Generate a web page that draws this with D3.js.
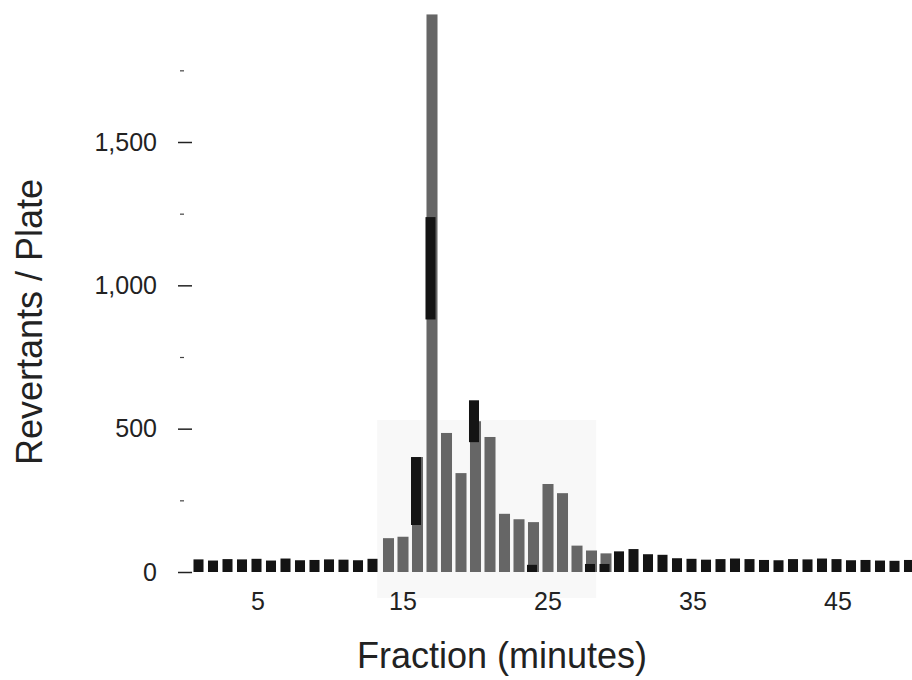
<!DOCTYPE html>
<html>

<head>
    <style>
        body { margin: 0; background: #fff; }
        svg { display: block; font-family: "Liberation Sans", Arial, sans-serif; }
    </style>
</head>

<body>
    <svg width="912" height="680"></svg>
    <script src="https://d3js.org/d3.v7.min.js"></script>
    <script>
        // fractions 1..50
        var fractions = d3.range(1, 51);

        // gray bars (revertants/plate), 0 where no gray bar shows
        var grayVals = [0, 0, 0, 0, 0, 0, 0, 0, 0, 0, 0, 0, 0,
            118, 123, 401, 1945, 485, 345, 526, 471, 203, 184, 174, 307, 275, 92, 75, 65,
            0, 0, 0, 0, 0, 0, 0, 0, 0, 0, 0, 0, 0, 0, 0, 0, 0, 0, 0, 0, 0];

        // black bars, drawn on top as low/high ranges
        var blackLo = [0, 0, 0, 0, 0, 0, 0, 0, 0, 0, 0, 0, 0,
            0, 0, 164, 881, 0, 0, 453, 0, 0, 0, 0, 0, 0, 0, 0, 0,
            0, 0, 0, 0, 0, 0, 0, 0, 0, 0, 0, 0, 0, 0, 0, 0, 0, 0, 0, 0, 0];
        var blackHi = [44, 40, 45, 44, 46, 40, 47, 41, 42, 44, 43, 41, 46,
            0, 0, 401, 1238, 0, 0, 599, 0, 0, 0, 25, 0, 0, 0, 28, 28,
            72, 80, 62, 60, 48, 46, 43, 45, 47, 45, 42, 41, 45, 44, 47, 45, 41, 42, 40, 39, 42];

        var yMajor = [0, 500, 1000, 1500];
        var yMinor = [250, 750, 1250, 1750];
        var xLabels = [5, 15, 25, 35, 45];

        // faint scanned background patch behind the peak
        var shadeFrom = 14, shadeTo = 28, shadeTop = 530;

        var svg = d3.select("svg");

        var x = d3.scaleBand()
            .domain(fractions)
            .range([192.75, 917.75])
            .paddingInner(0.24)
            .paddingOuter(0.12);

        var y = d3.scaleLinear()
            .domain([0, 1500])
            .range([572, 142]);

        var data = fractions.map(function (f, i) {
            return { f: f, gray: grayVals[i], lo: blackLo[i], hi: blackHi[i] };
        });

        var step = x.step();
        svg.append("rect")
            .attr("x", x(shadeFrom) - step * 0.4)
            .attr("y", y(shadeTop))
            .attr("width", x(shadeTo) - x(shadeFrom) + step * 1.1)
            .attr("height", y(0) - y(shadeTop) + 26)
            .attr("fill", "#f8f8f8");

        var g = svg.append("g");

        g.selectAll(".gray")
            .data(data.filter(function (d) { return d.gray > 0; }))
            .enter().append("rect")
            .attr("class", "gray")
            .attr("x", function (d) { return x(d.f); })
            .attr("y", function (d) { return y(d.gray); })
            .attr("width", x.bandwidth())
            .attr("height", function (d) { return y(0) - y(d.gray); })
            .attr("fill", "#666");

        g.selectAll(".black")
            .data(data.filter(function (d) { return d.hi > d.lo; }))
            .enter().append("rect")
            .attr("class", "black")
            .attr("x", function (d) { return x(d.f) - 1; })
            .attr("y", function (d) { return y(d.hi); })
            .attr("width", x.bandwidth() - 1)
            .attr("height", function (d) { return y(d.lo) - y(d.hi); })
            .attr("fill", "#141414");

        // y axis: major ticks with labels, no spine
        var yAxis = svg.append("g")
            .attr("transform", "translate(192,0)")
            .call(d3.axisLeft(y)
                .tickValues(yMajor)
                .tickSize(14)
                .tickPadding(21)
                .tickFormat(d3.format(",")));
        yAxis.select(".domain").remove();
        yAxis.selectAll("line").attr("stroke", "#222").attr("stroke-width", 1.5);
        yAxis.selectAll("text").attr("font-size", 25).attr("fill", "#222")
            .attr("font-family", "Liberation Sans, Arial, sans-serif");

        var yAxisMinor = svg.append("g")
            .attr("transform", "translate(184,0)")
            .call(d3.axisLeft(y).tickValues(yMinor).tickSize(4).tickFormat(""));
        yAxisMinor.select(".domain").remove();
        yAxisMinor.selectAll("line").attr("stroke", "#444").attr("stroke-width", 1.2);

        // x axis: labels only
        var xAxis = svg.append("g")
            .attr("transform", "translate(0,572)")
            .call(d3.axisBottom(x).tickValues(xLabels).tickSize(0).tickPadding(20));
        xAxis.select(".domain").remove();
        xAxis.selectAll("text").attr("font-size", 25).attr("fill", "#222")
            .attr("font-family", "Liberation Sans, Arial, sans-serif");

        svg.append("text")
            .attr("x", 502)
            .attr("y", 668)
            .attr("text-anchor", "middle")
            .attr("font-size", 36)
            .attr("fill", "#222")
            .text("Fraction (minutes)");

        svg.append("text")
            .attr("transform", "translate(42,322) rotate(-90)")
            .attr("text-anchor", "middle")
            .attr("font-size", 36)
            .attr("fill", "#222")
            .text("Revertants / Plate");
    </script>
</body>

</html>
